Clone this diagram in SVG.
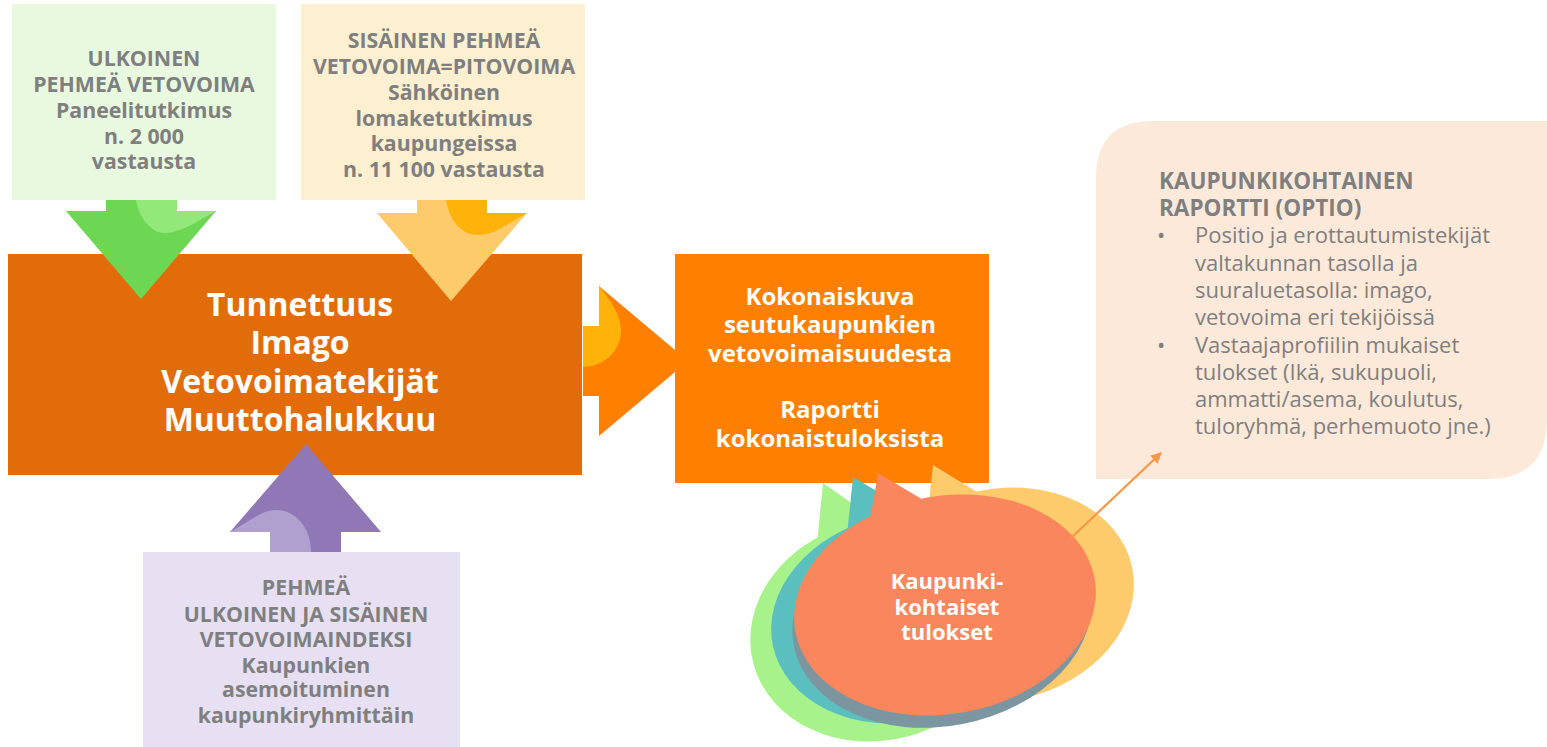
<svg xmlns="http://www.w3.org/2000/svg" width="1547" height="747" viewBox="0 0 1547 747">
<style>
.gt{font-family:"Open Sans","DejaVu Sans",sans-serif;font-weight:bold;fill:#7f7f7f;font-size:21.3px;text-anchor:middle}
.wt{font-family:"Open Sans","DejaVu Sans",sans-serif;font-weight:bold;fill:#ffffff;text-anchor:middle}
.rt{font-family:"Open Sans","DejaVu Sans",sans-serif;fill:#7f7f7f;font-size:22px}
.rb{font-family:"Open Sans","DejaVu Sans",sans-serif;font-weight:bold;fill:#7f7f7f;font-size:22.5px}
</style>
<defs>
<marker id="ah" viewBox="0 0 10 10" refX="9" refY="5" markerWidth="5" markerHeight="5" orient="auto">
<path d="M0,0 L10,5 L0,10 Z" fill="#f79646"/>
</marker>
</defs>
<rect width="1547" height="747" fill="#ffffff"/>

<g id="node-ulkoinen">
<rect x="12" y="4" width="264" height="196" fill="#e8f9e0"/>
<text class="gt" x="144" y="66">ULKOINEN</text>
<text class="gt" x="144" y="92">PEHMEÄ VETOVOIMA</text>
<text class="gt" x="144" y="118">Paneelitutkimus</text>
<text class="gt" x="144" y="144">n. 2 000</text>
<text class="gt" x="144" y="169">vastausta</text>
</g>

<g id="node-sisainen">
<rect x="301" y="4" width="284" height="196" fill="#fdf0d0"/>
<text class="gt" x="444" y="48">SISÄINEN PEHMEÄ</text>
<text class="gt" x="444" y="74">VETOVOIMA=PITOVOIMA</text>
<text class="gt" x="444" y="100">Sähköinen</text>
<text class="gt" x="444" y="126">lomaketutkimus</text>
<text class="gt" x="444" y="151">kaupungeissa</text>
<text class="gt" x="444" y="177">n. 11 100 vastausta</text>
</g>

<g id="node-indeksi">
<rect x="143" y="552" width="317" height="195" fill="#e6e0f2"/>
<text class="gt" x="306" y="595">PEHMEÄ</text>
<text class="gt" x="306" y="622">ULKOINEN JA SISÄINEN</text>
<text class="gt" x="306" y="647">VETOVOIMAINDEKSI</text>
<text class="gt" x="306" y="673">Kaupunkien</text>
<text class="gt" x="306" y="697">asemoituminen</text>
<text class="gt" x="306" y="723">kaupunkiryhmittäin</text>
</g>

<g id="node-main">
<rect x="8" y="254" width="574" height="221" fill="#e36c0a"/>
<text class="wt" x="300" y="316" font-size="32">Tunnettuus</text>
<text class="wt" x="300" y="354" font-size="32">Imago</text>
<text class="wt" x="300" y="393" font-size="32">Vetovoimatekijät</text>
<text class="wt" x="300" y="431" font-size="32">Muuttohalukkuu</text>
</g>

<g id="node-kokonais">
<rect x="675" y="254" width="314" height="229" fill="#ff7f00"/>
<text class="wt" x="830" y="305" font-size="24">Kokonaiskuva</text>
<text class="wt" x="830" y="333" font-size="24">seutukaupunkien</text>
<text class="wt" x="830" y="362" font-size="24">vetovoimaisuudesta</text>
<text class="wt" x="830" y="418" font-size="24">Raportti</text>
<text class="wt" x="830" y="447" font-size="24">kokonaistuloksista</text>
</g>

<g id="node-raportti">
<path d="M1096,178 Q1096,121 1153,121 L1547,121 L1547,419 Q1547,479 1487,479 L1096,479 Z" fill="#fde9d9"/>
<text class="rb" x="1159" y="189">KAUPUNKIKOHTAINEN</text>
<text class="rb" x="1159" y="216">RAPORTTI (OPTIO)</text>
<text class="rt" x="1157" y="243">•</text>
<text class="rt" x="1195" y="243">Positio ja erottautumistekijät</text>
<text class="rt" x="1195" y="271">valtakunnan tasolla ja</text>
<text class="rt" x="1195" y="298">suuraluetasolla: imago,</text>
<text class="rt" x="1195" y="325">vetovoima eri tekijöissä</text>
<text class="rt" x="1157" y="353">•</text>
<text class="rt" x="1195" y="353">Vastaajaprofiilin mukaiset</text>
<text class="rt" x="1195" y="380">tulokset (Ikä, sukupuoli,</text>
<text class="rt" x="1195" y="407">ammatti/asema, koulutus,</text>
<text class="rt" x="1195" y="434">tuloryhmä, perhemuoto jne.)</text>
</g>

<g id="node-bubbles">
<g fill="#a8f28c">
<ellipse cx="880" cy="630" rx="131" ry="110" transform="rotate(-15 880 630)"/>
<polygon points="815,565 823,483 850,502 875,560"/>
</g>
<g fill="#5bbfbf">
<ellipse cx="905" cy="618" rx="135" ry="104" transform="rotate(-12 905 618)"/>
<polygon points="845,555 853,477 880,493 885,545"/>
</g>
<g fill="#fdca6c">
<ellipse cx="1000" cy="595" rx="135" ry="106" transform="rotate(-12 1000 595)"/>
<polygon points="925,540 933,465 977,492 985,530"/>
</g>
<ellipse cx="942" cy="617" rx="151" ry="109" transform="rotate(-11 942 617)" fill="#7b96a0"/>
<g fill="#f9865d">
<ellipse cx="945" cy="605" rx="152" ry="109" transform="rotate(-10 945 605)"/>
<polygon points="866,545 878,473 925,501 945,540"/>
</g>
<text class="wt" x="947" y="589" font-size="22">Kaupunki-</text>
<text class="wt" x="947" y="615" font-size="22">kohtaiset</text>
<text class="wt" x="947" y="640" font-size="22">tulokset</text>
</g>

<g id="connectors">
<g id="arrow-green">
<path d="M106,200 L177,200 L177,211 L216,211 L141,299 L66,211 L106,211 Z" fill="#6dd653"/>
<path d="M136,200 C140,220 152,233 165,233 C180,233 200,220 216,211 L177,211 L177,200 Z" fill="#93e87a"/>
</g>
<g id="arrow-yellow">
<path d="M417,200 L487,200 L487,213 L527,213 L451,301 L377,213 L417,213 Z" fill="#fdca6c"/>
<path d="M446,200 C450,222 462,235 478,235 C495,235 510,222 527,213 L487,213 L487,200 Z" fill="#ffb20a"/>
</g>
<g id="arrow-purple">
<path d="M306,444 L381,532 L341,532 L341,552 L270,552 L270,532 L230,532 Z" fill="#8f78b5"/>
<path d="M230,532 C248,522 262,510 276,510 C296,510 311,528 311,552 L270,552 L270,532 Z" fill="#b0a0d0"/>
</g>
<g id="arrow-right">
<path d="M583,326 L599,326 L599,286 L675,350 L675,372 L599,436 L599,396 L583,396 Z" fill="#ff7f00"/>
<path d="M599,286 C610,300 621,315 621,330 C621,352 603,367 583,367 L583,326 L599,326 Z" fill="#ffb20a"/>
</g>
<line x1="1071" y1="538" x2="1161" y2="453" stroke="#f79646" stroke-width="2.2" marker-end="url(#ah)"/>
</g>
</svg>
